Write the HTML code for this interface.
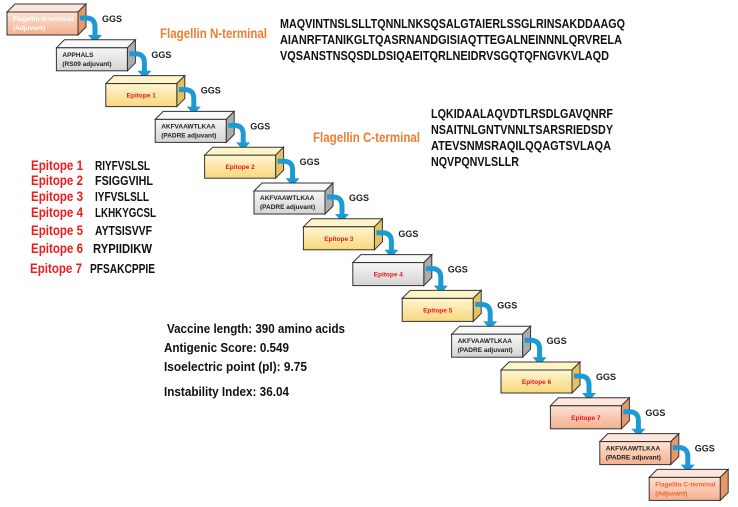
<!DOCTYPE html>
<html><head><meta charset="utf-8"><style>
body{margin:0;background:#fff;}
svg{display:block;font-family:"Liberation Sans",sans-serif;font-weight:bold;}
</style></head><body>
<svg width="738" height="507" viewBox="0 0 738 507" xmlns="http://www.w3.org/2000/svg">
<defs>
<linearGradient id="o" x1="0" y1="0" x2="0" y2="1"><stop offset="0" stop-color="#fde2d3"/><stop offset="1" stop-color="#f3b08e"/></linearGradient>
<linearGradient id="g" x1="0" y1="0" x2="0" y2="1"><stop offset="0" stop-color="#f6f6f6"/><stop offset="1" stop-color="#d4d4d4"/></linearGradient>
<linearGradient id="y" x1="0" y1="0" x2="0" y2="1"><stop offset="0" stop-color="#fff6d0"/><stop offset="1" stop-color="#fad77c"/></linearGradient>
<g id="arr"><path d="M0 0 h6 q9 0 9 9 v10" fill="none" stroke="#1b9ad6" stroke-width="5"/><path d="M8 17 h14 l-7 8z" fill="#1b9ad6"/></g>
</defs>
<g id="boxes"></g>
<g font-size="12.5" fill="#111" lengthAdjust="spacingAndGlyphs">
<text x="280" y="28" textLength="345" lengthAdjust="spacingAndGlyphs">MAQVINTNSLSLLTQNNLNKSQSALGTAIERLSSGLRINSAKDDAAGQ</text>
<text x="280" y="44" textLength="342" lengthAdjust="spacingAndGlyphs">AIANRFTANIKGLTQASRNANDGISIAQTTEGALNEINNNLQRVRELA</text>
<text x="280" y="60" textLength="329" lengthAdjust="spacingAndGlyphs">VQSANSTNSQSDLDSIQAEITQRLNEIDRVSGQTQFNGVKVLAQD</text>
<text x="431" y="118" textLength="182" lengthAdjust="spacingAndGlyphs">LQKIDAALAQVDTLRSDLGAVQNRF</text>
<text x="431" y="134" textLength="182" lengthAdjust="spacingAndGlyphs">NSAITNLGNTVNNLTSARSRIEDSDY</text>
<text x="431" y="150" textLength="180" lengthAdjust="spacingAndGlyphs">ATEVSNMSRAQILQQAGTSVLAQA</text>
<text x="431" y="166" textLength="88" lengthAdjust="spacingAndGlyphs">NQVPQNVLSLLR</text>
</g>
<text x="160" y="38" font-size="14" fill="#ed7d31" textLength="107" lengthAdjust="spacingAndGlyphs">Flagellin N-terminal</text>
<text x="313" y="142" font-size="14" fill="#ed7d31" textLength="107" lengthAdjust="spacingAndGlyphs">Flagellin C-terminal</text>
<g font-size="13.5" fill="#ee1c1c">
<text x="31" y="170" textLength="52" lengthAdjust="spacingAndGlyphs">Epitope 1</text>
<text x="31" y="185" textLength="52" lengthAdjust="spacingAndGlyphs">Epitope 2</text>
<text x="31" y="201" textLength="52" lengthAdjust="spacingAndGlyphs">Epitope 3</text>
<text x="31" y="217" textLength="52" lengthAdjust="spacingAndGlyphs">Epitope 4</text>
<text x="31" y="235" textLength="52" lengthAdjust="spacingAndGlyphs">Epitope 5</text>
<text x="31" y="253" textLength="52" lengthAdjust="spacingAndGlyphs">Epitope 6</text>
<text x="30" y="273" textLength="52" lengthAdjust="spacingAndGlyphs">Epitope 7</text>
</g>
<g font-size="12.5" fill="#111">
<text x="95" y="170" textLength="55" lengthAdjust="spacingAndGlyphs">RIYFVSLSL</text>
<text x="95" y="185" textLength="58" lengthAdjust="spacingAndGlyphs">FSIGGVIHL</text>
<text x="95" y="201" textLength="54" lengthAdjust="spacingAndGlyphs">IYFVSLSLL</text>
<text x="95" y="217" textLength="61" lengthAdjust="spacingAndGlyphs">LKHKYGCSL</text>
<text x="95" y="235" textLength="57" lengthAdjust="spacingAndGlyphs">AYTSISVVF</text>
<text x="93" y="253" textLength="59" lengthAdjust="spacingAndGlyphs">RYPIIDIKW</text>
<text x="90" y="273" textLength="65" lengthAdjust="spacingAndGlyphs">PFSAKCPPIE</text>
</g>
<g font-size="13" fill="#111">
<text x="167" y="333" textLength="178" lengthAdjust="spacingAndGlyphs">Vaccine length:  390 amino acids</text>
<text x="164" y="352" textLength="125" lengthAdjust="spacingAndGlyphs">Antigenic Score:  0.549</text>
<text x="164" y="371" textLength="143" lengthAdjust="spacingAndGlyphs">Isoelectric point (pI):  9.75</text>
<text x="164" y="396" textLength="125" lengthAdjust="spacingAndGlyphs">Instability Index: 36.04</text>
</g>
</svg>
<script>
var data=[["o","Flagellin N-terminal","(Adjuvant)","#fff"],["g","APPHALS","(RS09 adjuvant)","#222"],["y","Epitope 1","","#e8161c"],["g","AKFVAAWTLKAA","(PADRE adjuvant)","#222"],["y","Epitope 2","","#e8161c"],["g","AKFVAAWTLKAA","(PADRE adjuvant)","#222"],["y","Epitope 3","","#e8161c"],["g","Epitope 4","","#e8161c"],["y","Epitope 5","","#e8161c"],["g","AKFVAAWTLKAA","(PADRE adjuvant)","#222"],["y","Epitope 6","","#e8161c"],["o","Epitope 7","","#e8161c"],["o","AKFVAAWTLKAA","(PADRE adjuvant)","#222"],["o","Flagellin  C-terminal","(Adjuvant)","#e8662c"]];
var s="";
data.forEach(function(d,i){
 var x=7+49.4*i,y=12+35.8*i,w=71,h=23,dp=8;
 var side=d[0]=="o"?"#e9966c":d[0]=="g"?"#acacac":"#e6c160";
 var top=d[0]=="o"?"#fde6da":d[0]=="g"?"#f8f8f8":"#fff4c8";
 s+='<polygon points="'+x+','+y+' '+(x+dp)+','+(y-dp)+' '+(x+w+dp)+','+(y-dp)+' '+(x+w)+','+y+'" fill="'+top+'" stroke="#333" stroke-width="1"/>';
 s+='<polygon points="'+(x+w)+','+y+' '+(x+w+dp)+','+(y-dp)+' '+(x+w+dp)+','+(y+h-dp)+' '+(x+w)+','+(y+h)+'" fill="'+side+'" stroke="#333" stroke-width="1"/>';
 s+='<rect x="'+x+'" y="'+y+'" width="'+w+'" height="'+h+'" fill="url(#'+d[0]+')" stroke="#333" stroke-width="1"/>';
 if(d[2]){s+='<text x="'+(x+6)+'" y="'+(y+9)+'" font-size="6.5" fill="'+d[3]+'">'+d[1]+'</text><text x="'+(x+6)+'" y="'+(y+18)+'" font-size="6.5" fill="'+d[3]+'">'+d[2]+'</text>';}
 else s+='<text x="'+(x+w/2)+'" y="'+(y+14)+'" font-size="6.5" text-anchor="middle" fill="'+d[3]+'">'+d[1]+'</text>';
 if(i<13){s+='<use href="#arr" x="'+(x+w+2)+'" y="'+(y+6)+'"/>';
  s+='<text x="'+(x+w+24)+'" y="'+(y+10)+'" font-size="9" fill="#222">GGS</text>';}
});
document.getElementById("boxes").innerHTML=s;
</script>
</body></html>
